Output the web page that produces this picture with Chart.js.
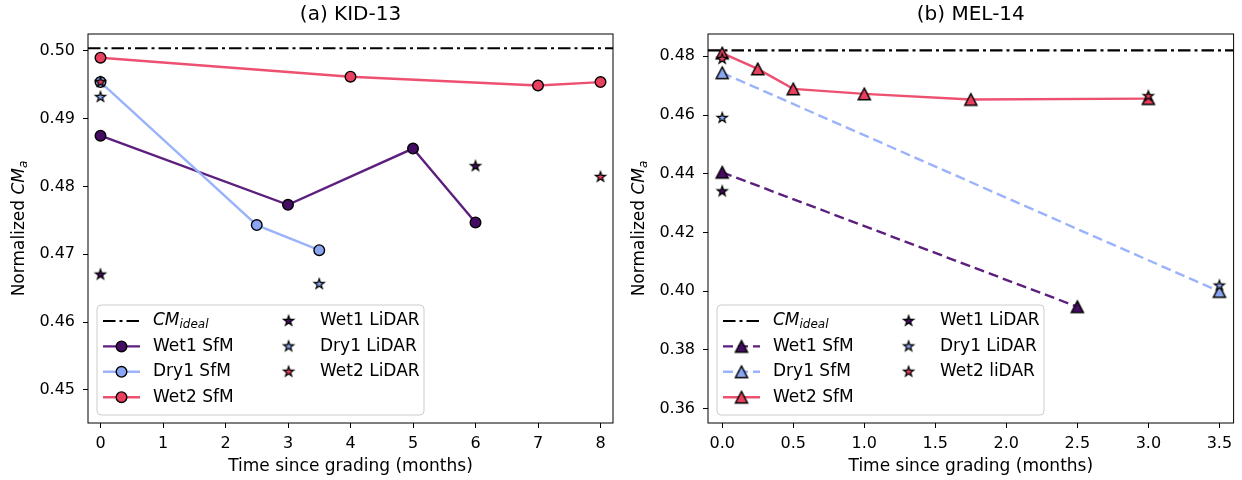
<!DOCTYPE html>
<html>
<head>
<meta charset="utf-8">
<title>Normalized CMa since grading</title>
<script src="https://cdn.jsdelivr.net/npm/chart.js@4.4.1/dist/chart.umd.min.js"></script>
<style>
  html, body { margin: 0; padding: 0; background: #fff; }
  .panel { position: absolute; top: 0; height: 480px; }
  #panelA { left: 0; width: 620px; }
  #panelB { left: 620px; width: 622px; }
</style>
</head>
<body>
<div class="panel" id="panelA"><canvas id="chartA" width="620" height="480"></canvas></div>
<div class="panel" id="panelB"><canvas id="chartB" width="622" height="480"></canvas></div>
<script>
// --- DATA: panel (a) KID-13 ---
const titleA = '(a) KID-13';
const xLimA = [-0.2, 8.2];
const yLimA = [0.4451, 0.5025];
const xTicksA = [0, 1, 2, 3, 4, 5, 6, 7, 8];
const yTicksA = [0.45, 0.46, 0.47, 0.48, 0.49, 0.50];
const idealA = 0.5004;
const wet1SfmTimeA = [0, 3, 5, 6];
const wet1SfmA = [0.4875, 0.4773, 0.4856, 0.4747];
const dry1SfmTimeA = [0, 2.5, 3.5];
const dry1SfmA = [0.4954, 0.4743, 0.4706];
const wet2SfmTimeA = [0, 4, 7, 8];
const wet2SfmA = [0.4990, 0.4962, 0.4949, 0.4954];
const wet1LidarTimeA = [0, 6];
const wet1LidarA = [0.4670, 0.4830];
const dry1LidarTimeA = [0, 3.5];
const dry1LidarA = [0.4932, 0.4656];
const wet2LidarTimeA = [0, 8];
const wet2LidarA = [0.4954, 0.4814];
const labelsA = ['CM_ideal', 'Wet1 SfM', 'Dry1 SfM', 'Wet2 SfM', 'Wet1 LiDAR', 'Dry1 LiDAR', 'Wet2 LiDAR'];

// --- DATA: panel (b) MEL-14 ---
const titleB = '(b) MEL-14';
const xLimB = [-0.1, 3.6];
const yLimB = [0.3551, 0.4876];
const xTicksB = [0, 0.5, 1, 1.5, 2, 2.5, 3, 3.5];
const yTicksB = [0.36, 0.38, 0.40, 0.42, 0.44, 0.46, 0.48];
const idealB = 0.4820;
const wet1SfmTimeB = [0, 2.5];
const wet1SfmB = [0.4405, 0.3947];
const dry1SfmTimeB = [0, 3.5];
const dry1SfmB = [0.4744, 0.3999];
const wet2SfmTimeB = [0, 0.25, 0.5, 1, 1.75, 3];
const wet2SfmB = [0.4811, 0.4757, 0.4689, 0.4672, 0.4653, 0.4656];
const wet1LidarTimeB = [0];
const wet1LidarB = [0.4340];
const dry1LidarTimeB = [0, 3.5];
const dry1LidarB = [0.4590, 0.4019];
const wet2LidarTimeB = [0, 3];
const wet2LidarB = [0.4791, 0.4664];
const labelsB = ['CM_ideal', 'Wet1 SfM', 'Dry1 SfM', 'Wet2 SfM', 'Wet1 LiDAR', 'Dry1 LiDAR', 'Wet2 liDAR'];

// Warna
const PURPLE = '#440c62', PURPLE_LINE = '#5c1f7e';
const BLUE = '#8aa6f2', BLUE_LINE = '#9ab3fb';
const RED = '#e9405f', RED_LINE = '#ee5070';
const FONT = '"DejaVu Sans"';

Chart.defaults.font.family = 'DejaVu Sans';
Chart.defaults.color = '#000';

const toPoints = (xs, ys) => xs.map((x, i) => ({ x: x, y: ys[i] }));

// --- MARKER: segitiga & bintang ala matplotlib ---
function makeTriangle(fill) {
    const c = document.createElement('canvas');
    c.width = 18; c.height = 18;
    const g = c.getContext('2d');
    g.beginPath();
    g.moveTo(9, 3.2); g.lineTo(15.1, 14.8); g.lineTo(2.9, 14.8);
    g.closePath();
    g.fillStyle = fill; g.fill();
    g.lineWidth = 1.4; g.strokeStyle = '#000'; g.stroke();
    return c;
}

function makeStar(fill) {
    const c = document.createElement('canvas');
    c.width = 16; c.height = 16;
    const g = c.getContext('2d');
    g.beginPath();
    for (let k = 0; k < 10; k++) {
        const r = k % 2 === 0 ? 5.3 : 2.1;
        const ang = -Math.PI / 2 + k * Math.PI / 5;
        const px = 8 + r * Math.cos(ang), py = 8 + r * Math.sin(ang);
        if (k === 0) g.moveTo(px, py); else g.lineTo(px, py);
    }
    g.closePath();
    g.fillStyle = fill; g.fill();
    g.lineWidth = 1.2; g.strokeStyle = '#000'; g.stroke();
    return c;
}

const starPurple = makeStar(PURPLE), starBlue = makeStar(BLUE), starRed = makeStar(RED);

// --- Teks dengan subscript miring (CM_ideal / CM_a) ---
function drawSubText(ctx, base, sub, x, y, size) {
    ctx.font = 'italic ' + size + 'px ' + FONT;
    ctx.fillText(base, x, y);
    const w = ctx.measureText(base).width;
    ctx.font = 'italic ' + Math.round(size * 0.7) + 'px ' + FONT;
    ctx.fillText(sub, x + w, y + size * 0.25);
    return w + ctx.measureText(sub).width;
}

function drawLegend(chart) {
    const ctx = chart.ctx, a = chart.chartArea;
    const left = a.left + 9, top = a.bottom - 118, w = 327, h = 110;
    ctx.save();
    ctx.beginPath();
    ctx.roundRect(left, top, w, h, 4);
    ctx.fillStyle = 'rgba(255,255,255,0.8)'; ctx.fill();
    ctx.strokeStyle = '#cccccc'; ctx.lineWidth = 1; ctx.stroke();

    chart.data.datasets.forEach((ds, i) => {
        const col = i < 4 ? 0 : 1;
        const row = i < 4 ? i : i - 4;
        const y = top + 16 + row * 25.4;
        const mx = col === 0 ? left + 24.5 : left + 191.6;
        if (ds.showLine !== false) {
            ctx.save();
            ctx.beginPath();
            ctx.setLineDash(ds.borderDash || []);
            ctx.strokeStyle = ds.borderColor; ctx.lineWidth = ds.borderWidth;
            ctx.moveTo(left + 6, y); ctx.lineTo(left + 43, y);
            ctx.stroke();
            ctx.restore();
        }
        if (ds.pointRadius > 0) {
            const st = ds.pointStyle;
            if (st instanceof HTMLCanvasElement) {
                ctx.drawImage(st, mx - st.width / 2, y - st.height / 2);
            } else {
                ctx.beginPath();
                ctx.arc(mx, y, ds.pointRadius, 0, Math.PI * 2);
                ctx.fillStyle = ds.pointBackgroundColor; ctx.fill();
                ctx.strokeStyle = '#000'; ctx.lineWidth = ds.pointBorderWidth; ctx.stroke();
            }
        }
        const tx = col === 0 ? left + 56 : left + 223;
        ctx.fillStyle = '#000';
        ctx.textAlign = 'left'; ctx.textBaseline = 'middle';
        if (ds.label.indexOf('_') >= 0) {
            const parts = ds.label.split('_');
            drawSubText(ctx, parts[0], parts[1], tx, y, 17);
        } else {
            ctx.font = '17px ' + FONT;
            ctx.fillText(ds.label, tx, y);
        }
    });
    ctx.restore();
}

// Bingkai, judul, label sumbu Y, legenda
const panelDecor = {
    id: 'panelDecor',
    afterDatasetsDraw(chart, args, opts) {
        const ctx = chart.ctx, a = chart.chartArea;
        ctx.save();
        ctx.strokeStyle = '#000'; ctx.lineWidth = 1;
        ctx.strokeRect(a.left, a.top, a.right - a.left, a.bottom - a.top);

        ctx.fillStyle = '#000';
        ctx.font = '20px ' + FONT;
        ctx.textAlign = 'center'; ctx.textBaseline = 'middle';
        ctx.fillText(opts.title, (a.left + a.right) / 2, 15);

        // "Normalized CM_a" diputar
        ctx.translate(20, (a.top + a.bottom) / 2);
        ctx.rotate(-Math.PI / 2);
        ctx.textAlign = 'left'; ctx.textBaseline = 'middle';
        ctx.font = '17px ' + FONT;
        const w1 = ctx.measureText('Normalized ').width;
        ctx.font = 'italic 17px ' + FONT;
        const w2 = ctx.measureText('CM').width;
        ctx.font = 'italic 12px ' + FONT;
        const w3 = ctx.measureText('a').width;
        const x0 = -(w1 + w2 + w3) / 2;
        ctx.font = '17px ' + FONT;
        ctx.fillText('Normalized ', x0, 0);
        drawSubText(ctx, 'CM', 'a', x0 + w1, 0, 17);
        ctx.restore();

        drawLegend(chart);
    }
};

function buildChart(canvasId, p) {
    const lineCfg = (label, xs, ys, line, fill, marker, dash, order) => ({
        label: label,
        data: toPoints(xs, ys),
        borderColor: line, borderWidth: 2.4, borderDash: dash,
        pointStyle: marker, pointRadius: marker === 'circle' ? 5.3 : 7,
        pointBackgroundColor: fill, pointBorderColor: '#000', pointBorderWidth: 1.4,
        tension: 0, order: order
    });
    const starCfg = (label, xs, ys, img, order) => ({
        label: label,
        data: toPoints(xs, ys),
        showLine: false, pointStyle: img, pointRadius: 5, order: order
    });

    return new Chart(document.getElementById(canvasId), {
        type: 'line',
        data: {
            datasets: [
                {
                    label: p.labels[0],
                    data: [{ x: p.xLim[0], y: p.ideal }, { x: p.xLim[1], y: p.ideal }],
                    borderColor: '#000', borderWidth: 2.2, borderDash: [12.5, 4, 3, 4],
                    pointRadius: 0, order: 7
                },
                lineCfg(p.labels[1], p.wet1[0], p.wet1[1], PURPLE_LINE, PURPLE, p.marker(PURPLE), p.dash, 6),
                lineCfg(p.labels[2], p.dry1[0], p.dry1[1], BLUE_LINE, BLUE, p.marker(BLUE), p.dash, 5),
                lineCfg(p.labels[3], p.wet2[0], p.wet2[1], RED_LINE, RED, p.marker(RED), [], 4),
                starCfg(p.labels[4], p.wet1L[0], p.wet1L[1], starPurple, 3),
                starCfg(p.labels[5], p.dry1L[0], p.dry1L[1], starBlue, 2),
                starCfg(p.labels[6], p.wet2L[0], p.wet2L[1], starRed, 1)
            ]
        },
        options: {
            responsive: false,
            animation: false,
            events: [],
            layout: { padding: { top: 34, left: 0, right: p.padRight, bottom: 0 } },
            plugins: {
                legend: { display: false },
                tooltip: { enabled: false },
                panelDecor: { title: p.title }
            },
            scales: {
                x: {
                    type: 'linear', min: p.xLim[0], max: p.xLim[1],
                    afterBuildTicks: s => { s.ticks = p.xTicks.map(v => ({ value: v })); },
                    afterFit: s => { s.height = 57; },
                    ticks: {
                        autoSkip: false, maxRotation: 0, padding: 6,
                        font: { size: 16 }, color: '#000',
                        callback: v => p.xFmt(v)
                    },
                    grid: { drawOnChartArea: false, drawTicks: true, tickLength: 5, color: '#000' },
                    border: { display: false },
                    title: {
                        display: true, text: 'Time since grading (months)',
                        font: { size: 17 }, color: '#000', padding: { top: 0, bottom: 3 }
                    }
                },
                y: {
                    type: 'linear', min: p.yLim[0], max: p.yLim[1],
                    afterBuildTicks: s => { s.ticks = p.yTicks.map(v => ({ value: v })); },
                    afterFit: s => { s.width = 88; },
                    ticks: {
                        padding: 8, font: { size: 16 }, color: '#000',
                        callback: v => v.toFixed(2)
                    },
                    grid: { drawOnChartArea: false, drawTicks: true, tickLength: 5, color: '#000' },
                    border: { display: false }
                }
            }
        },
        plugins: [panelDecor]
    });
}

// --- GRAFIK (a) KID-13 ---
const chartA = buildChart('chartA', {
    title: titleA, labels: labelsA, xLim: xLimA, yLim: yLimA,
    xTicks: xTicksA, yTicks: yTicksA, ideal: idealA, padRight: 7,
    xFmt: v => String(v), marker: () => 'circle', dash: [],
    wet1: [wet1SfmTimeA, wet1SfmA], dry1: [dry1SfmTimeA, dry1SfmA], wet2: [wet2SfmTimeA, wet2SfmA],
    wet1L: [wet1LidarTimeA, wet1LidarA], dry1L: [dry1LidarTimeA, dry1LidarA], wet2L: [wet2LidarTimeA, wet2LidarA]
});

// --- GRAFIK (b) MEL-14 ---
const chartB = buildChart('chartB', {
    title: titleB, labels: labelsB, xLim: xLimB, yLim: yLimB,
    xTicks: xTicksB, yTicks: yTicksB, ideal: idealB, padRight: 8,
    xFmt: v => v.toFixed(1), marker: c => makeTriangle(c), dash: [10, 5],
    wet1: [wet1SfmTimeB, wet1SfmB], dry1: [dry1SfmTimeB, dry1SfmB], wet2: [wet2SfmTimeB, wet2SfmB],
    wet1L: [wet1LidarTimeB, wet1LidarB], dry1L: [dry1LidarTimeB, dry1LidarB], wet2L: [wet2LidarTimeB, wet2LidarB]
});
</script>
</body>
</html>
